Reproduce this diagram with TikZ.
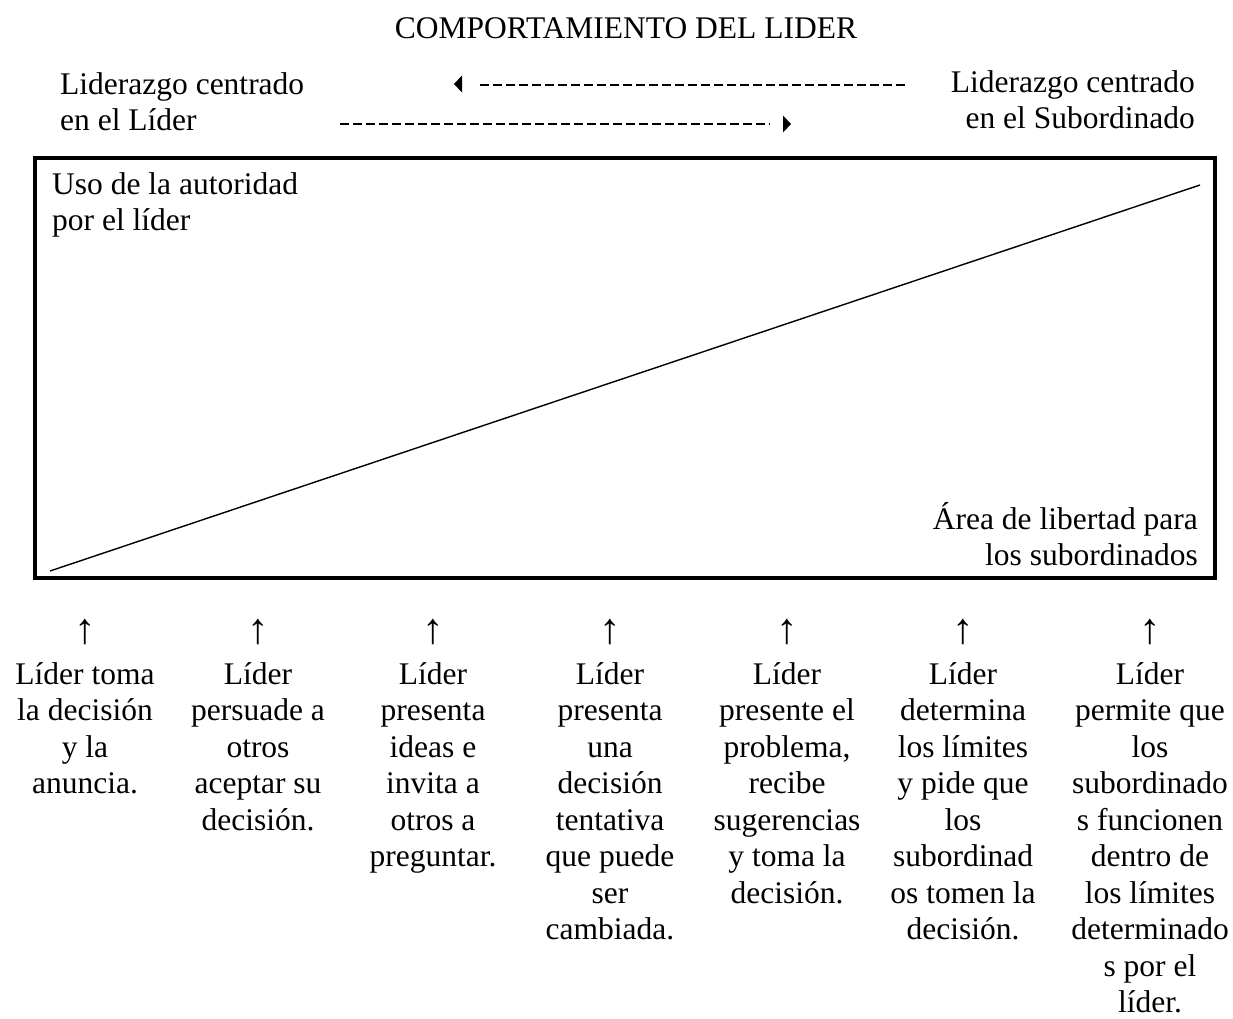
\documentclass[tikz,border=0pt]{standalone}
\usepackage{fontspec}
\setmainfont{Liberation Serif}
\begin{document}
\begin{tikzpicture}[x=1pt,y=-1pt,
  txt/.style={inner sep=0pt, font=\fontsize{31.5}{36.5}\selectfont},
  col/.style={txt, align=center, anchor=north},
  upar/.style={inner sep=0pt, font=\fontsize{43}{43}\selectfont, anchor=center},
  dashline/.style={line width=2pt, dash pattern=on 9pt off 4pt},
  tipfill/.style={fill=black},
  frame/.style={draw, line width=4.5pt, inner sep=0pt},
  slope/.style={line width=1.4pt}]
\useasboundingbox (0,0) rectangle (1233,1018);
% title and side labels
\node[txt] (title) at (626,28) {COMPORTAMIENTO DEL LIDER};
\node[txt, anchor=north west, align=left] (leftlbl) at (60,72) {Liderazgo centrado\\en el Líder};
\node[txt, anchor=north east, align=right] (rightlbl) at (1195,70) {Liderazgo centrado\\en el Subordinado};
% dashed arrows
\coordinate (la1) at (905,85);
\coordinate (la2) at (478,85);
\draw[dashline] (la1) -- (la2);
\coordinate (lt) at (454,84);
\fill[tipfill] (lt) -- ++(8,-8.5) -- ++(0,17) -- cycle;
\coordinate (ra1) at (340,124);
\coordinate (ra2) at (770,124);
\draw[dashline] (ra1) -- (ra2);
\coordinate (rt) at (791,124);
\fill[tipfill] (rt) -- ++(-8,-8.5) -- ++(0,17) -- cycle;
% frame
\node[frame, minimum width=1180pt, minimum height=420pt] (box) at (625,368) {};
\coordinate (s1) at (50,571);
\coordinate (s2) at (1200,185);
\draw[slope] (s1) -- (s2);
\node[txt, anchor=north west, align=left] (uso) at (52,172) {Uso de la autoridad\\por el líder};
\node[txt, anchor=south east, align=right] (area) at (1198,566) {Área de libertad para\\los subordinados};
% columns
\foreach \i/\x in {1/85,2/258,3/433,4/610,5/787,6/963,7/1150}{
  \node[upar] (up\i) at (\x,632) {↑};
}
\node[col] (c1) at (85,662) {Líder toma\\la decisión\\y la\\anuncia.};
\node[col] (c2) at (258,662) {Líder\\persuade a\\otros\\aceptar su\\decisión.};
\node[col] (c3) at (433,662) {Líder\\presenta\\ideas e\\invita a\\otros a\\preguntar.};
\node[col] (c4) at (610,662) {Líder\\presenta\\una\\decisión\\tentativa\\que puede\\ser\\cambiada.};
\node[col] (c5) at (787,662) {Líder\\presente el\\problema,\\recibe\\sugerencias\\y toma la\\decisión.};
\node[col] (c6) at (963,662) {Líder\\determina\\los límites\\y pide que\\los\\subordinad\\os tomen la\\decisión.};
\node[col] (c7) at (1150,662) {Líder\\permite que\\los\\subordinado\\s funcionen\\dentro de\\los límites\\determinado\\s por el\\líder.};
\end{tikzpicture}
\end{document}
